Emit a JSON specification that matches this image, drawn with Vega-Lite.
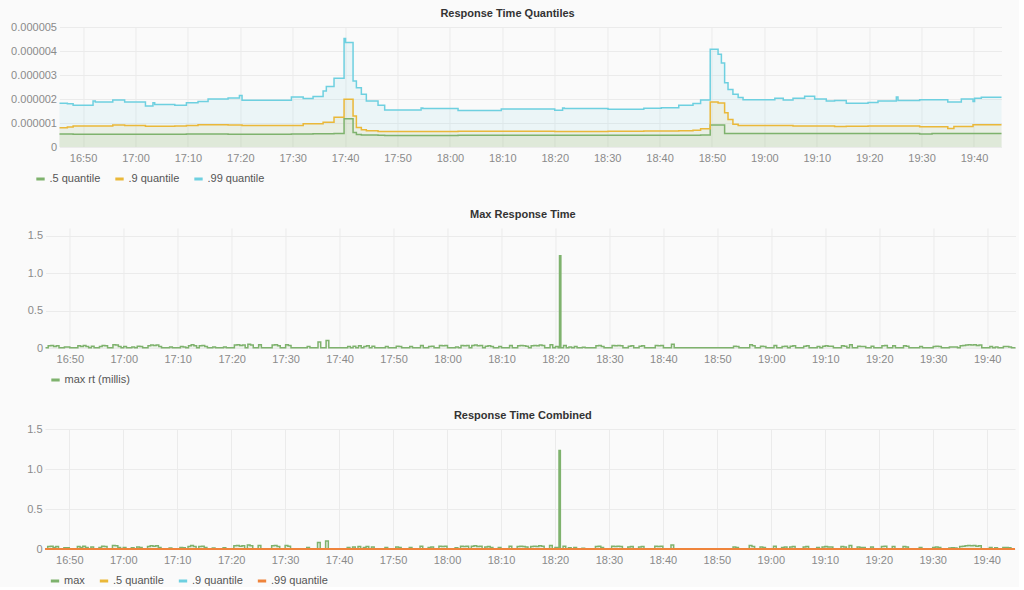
{
  "$schema": "https://vega.github.io/schema/vega-lite/v6.json",
  "background": "#fafafa",
  "padding": {"left": 10, "top": 8, "right": 0, "bottom": 0},
  "columns": 1,
  "align": "each",
  "center": true,
  "spacing": 24,
  "resolve": {"scale": {"color": "independent"}, "legend": {"color": "independent"}},
  "config": {
    "font": "Liberation Sans",
    "view": {"stroke": null},
    "axis": {"domain": false, "ticks": false, "gridColor": "#ebebeb", "labelColor": "#8a8a8a", "labelFontSize": 11},
    "axisX": {"labelPadding": 5, "labelFlush": false},
    "axisY": {"labelPadding": 3},
    "legend": {"direction": "horizontal", "symbolType": "stroke", "symbolStrokeWidth": 3, "symbolSize": 70, "symbolOpacity": 1, "labelFontSize": 11, "labelColor": "#555555", "columnPadding": 8, "labelOffset": 3},
    "title": {"fontSize": 11, "fontWeight": "bold", "color": "#333333"}
  },
  "datasets": {
    "q": [
      {"t": "2017-06-01T16:45:30", "q5": 0.54e-6, "q9": 0.80e-6, "q99": 1.82e-6},
      {"t": "2017-06-01T16:47:00", "q5": 0.54e-6, "q9": 0.83e-6, "q99": 1.80e-6},
      {"t": "2017-06-01T16:48:06", "q5": 0.53e-6, "q9": 0.87e-6, "q99": 1.74e-6},
      {"t": "2017-06-01T16:51:54", "q5": 0.53e-6, "q9": 0.87e-6, "q99": 1.92e-6},
      {"t": "2017-06-01T16:52:20", "q5": 0.53e-6, "q9": 0.87e-6, "q99": 1.87e-6},
      {"t": "2017-06-01T16:55:40", "q5": 0.53e-6, "q9": 0.92e-6, "q99": 1.96e-6},
      {"t": "2017-06-01T16:57:56", "q5": 0.53e-6, "q9": 0.90e-6, "q99": 1.88e-6},
      {"t": "2017-06-01T17:01:54", "q5": 0.53e-6, "q9": 0.86e-6, "q99": 1.71e-6},
      {"t": "2017-06-01T17:03:20", "q5": 0.53e-6, "q9": 0.86e-6, "q99": 1.84e-6},
      {"t": "2017-06-01T17:03:40", "q5": 0.53e-6, "q9": 0.86e-6, "q99": 1.77e-6},
      {"t": "2017-06-01T17:07:30", "q5": 0.53e-6, "q9": 0.87e-6, "q99": 1.74e-6},
      {"t": "2017-06-01T17:09:43", "q5": 0.54e-6, "q9": 0.90e-6, "q99": 1.84e-6},
      {"t": "2017-06-01T17:11:56", "q5": 0.54e-6, "q9": 0.93e-6, "q99": 1.90e-6},
      {"t": "2017-06-01T17:13:51", "q5": 0.54e-6, "q9": 0.93e-6, "q99": 2.00e-6},
      {"t": "2017-06-01T17:17:40", "q5": 0.53e-6, "q9": 0.92e-6, "q99": 2.04e-6},
      {"t": "2017-06-01T17:19:50", "q5": 0.53e-6, "q9": 0.92e-6, "q99": 2.15e-6},
      {"t": "2017-06-01T17:20:20", "q5": 0.53e-6, "q9": 0.90e-6, "q99": 1.95e-6},
      {"t": "2017-06-01T17:29:45", "q5": 0.54e-6, "q9": 0.90e-6, "q99": 2.08e-6},
      {"t": "2017-06-01T17:32:00", "q5": 0.54e-6, "q9": 0.97e-6, "q99": 2.02e-6},
      {"t": "2017-06-01T17:33:53", "q5": 0.55e-6, "q9": 0.97e-6, "q99": 2.10e-6},
      {"t": "2017-06-01T17:35:48", "q5": 0.55e-6, "q9": 1.03e-6, "q99": 2.33e-6},
      {"t": "2017-06-01T17:36:25", "q5": 0.55e-6, "q9": 1.03e-6, "q99": 2.52e-6},
      {"t": "2017-06-01T17:37:53", "q5": 0.56e-6, "q9": 1.24e-6, "q99": 2.86e-6},
      {"t": "2017-06-01T17:39:48", "q5": 1.18e-6, "q9": 1.99e-6, "q99": 4.52e-6},
      {"t": "2017-06-01T17:40:05", "q5": 1.18e-6, "q9": 1.99e-6, "q99": 4.35e-6},
      {"t": "2017-06-01T17:41:31", "q5": 0.60e-6, "q9": 1.29e-6, "q99": 2.75e-6},
      {"t": "2017-06-01T17:42:09", "q5": 0.52e-6, "q9": 0.81e-6, "q99": 2.47e-6},
      {"t": "2017-06-01T17:43:06", "q5": 0.50e-6, "q9": 0.72e-6, "q99": 2.20e-6},
      {"t": "2017-06-01T17:44:03", "q5": 0.50e-6, "q9": 0.68e-6, "q99": 1.92e-6},
      {"t": "2017-06-01T17:46:17", "q5": 0.49e-6, "q9": 0.65e-6, "q99": 1.74e-6},
      {"t": "2017-06-01T17:47:33", "q5": 0.48e-6, "q9": 0.65e-6, "q99": 1.54e-6},
      {"t": "2017-06-01T17:54:30", "q5": 0.48e-6, "q9": 0.65e-6, "q99": 1.62e-6},
      {"t": "2017-06-01T17:54:50", "q5": 0.48e-6, "q9": 0.65e-6, "q99": 1.60e-6},
      {"t": "2017-06-01T18:01:33", "q5": 0.49e-6, "q9": 0.66e-6, "q99": 1.52e-6},
      {"t": "2017-06-01T18:09:48", "q5": 0.49e-6, "q9": 0.66e-6, "q99": 1.58e-6},
      {"t": "2017-06-01T18:20:00", "q5": 0.49e-6, "q9": 0.65e-6, "q99": 1.53e-6},
      {"t": "2017-06-01T18:21:30", "q5": 0.49e-6, "q9": 0.65e-6, "q99": 1.62e-6},
      {"t": "2017-06-01T18:21:50", "q5": 0.49e-6, "q9": 0.65e-6, "q99": 1.60e-6},
      {"t": "2017-06-01T18:30:10", "q5": 0.49e-6, "q9": 0.66e-6, "q99": 1.57e-6},
      {"t": "2017-06-01T18:37:00", "q5": 0.49e-6, "q9": 0.67e-6, "q99": 1.61e-6},
      {"t": "2017-06-01T18:40:20", "q5": 0.49e-6, "q9": 0.67e-6, "q99": 1.64e-6},
      {"t": "2017-06-01T18:43:40", "q5": 0.49e-6, "q9": 0.68e-6, "q99": 1.74e-6},
      {"t": "2017-06-01T18:46:23", "q5": 0.49e-6, "q9": 0.70e-6, "q99": 1.81e-6},
      {"t": "2017-06-01T18:47:50", "q5": 0.50e-6, "q9": 0.76e-6, "q99": 1.96e-6},
      {"t": "2017-06-01T18:49:40", "q5": 0.92e-6, "q9": 1.88e-6, "q99": 4.07e-6},
      {"t": "2017-06-01T18:51:10", "q5": 0.92e-6, "q9": 1.83e-6, "q99": 3.86e-6},
      {"t": "2017-06-01T18:51:48", "q5": 0.92e-6, "q9": 1.83e-6, "q99": 3.50e-6},
      {"t": "2017-06-01T18:52:25", "q5": 0.56e-6, "q9": 1.43e-6, "q99": 2.68e-6},
      {"t": "2017-06-01T18:53:04", "q5": 0.56e-6, "q9": 1.15e-6, "q99": 2.40e-6},
      {"t": "2017-06-01T18:54:00", "q5": 0.56e-6, "q9": 0.95e-6, "q99": 2.20e-6},
      {"t": "2017-06-01T18:55:00", "q5": 0.56e-6, "q9": 0.90e-6, "q99": 2.06e-6},
      {"t": "2017-06-01T18:55:56", "q5": 0.56e-6, "q9": 0.90e-6, "q99": 1.97e-6},
      {"t": "2017-06-01T19:02:00", "q5": 0.56e-6, "q9": 0.90e-6, "q99": 2.03e-6},
      {"t": "2017-06-01T19:03:36", "q5": 0.56e-6, "q9": 0.90e-6, "q99": 1.96e-6},
      {"t": "2017-06-01T19:05:28", "q5": 0.56e-6, "q9": 0.88e-6, "q99": 2.03e-6},
      {"t": "2017-06-01T19:07:41", "q5": 0.56e-6, "q9": 0.88e-6, "q99": 2.11e-6},
      {"t": "2017-06-01T19:09:36", "q5": 0.56e-6, "q9": 0.88e-6, "q99": 2.00e-6},
      {"t": "2017-06-01T19:11:49", "q5": 0.56e-6, "q9": 0.88e-6, "q99": 1.92e-6},
      {"t": "2017-06-01T19:13:24", "q5": 0.56e-6, "q9": 0.85e-6, "q99": 1.94e-6},
      {"t": "2017-06-01T19:15:38", "q5": 0.56e-6, "q9": 0.86e-6, "q99": 1.82e-6},
      {"t": "2017-06-01T19:19:47", "q5": 0.56e-6, "q9": 0.87e-6, "q99": 1.85e-6},
      {"t": "2017-06-01T19:21:41", "q5": 0.56e-6, "q9": 0.87e-6, "q99": 1.92e-6},
      {"t": "2017-06-01T19:25:11", "q5": 0.56e-6, "q9": 0.87e-6, "q99": 2.08e-6},
      {"t": "2017-06-01T19:25:30", "q5": 0.56e-6, "q9": 0.87e-6, "q99": 1.94e-6},
      {"t": "2017-06-01T19:29:38", "q5": 0.54e-6, "q9": 0.84e-6, "q99": 1.97e-6},
      {"t": "2017-06-01T19:32:00", "q5": 0.56e-6, "q9": 0.84e-6, "q99": 1.97e-6},
      {"t": "2017-06-01T19:35:00", "q5": 0.56e-6, "q9": 0.77e-6, "q99": 1.87e-6},
      {"t": "2017-06-01T19:36:10", "q5": 0.56e-6, "q9": 0.85e-6, "q99": 1.87e-6},
      {"t": "2017-06-01T19:37:35", "q5": 0.56e-6, "q9": 0.85e-6, "q99": 2.00e-6},
      {"t": "2017-06-01T19:39:49", "q5": 0.56e-6, "q9": 0.93e-6, "q99": 1.90e-6},
      {"t": "2017-06-01T19:40:07", "q5": 0.56e-6, "q9": 0.93e-6, "q99": 2.03e-6},
      {"t": "2017-06-01T19:41:24", "q5": 0.56e-6, "q9": 0.93e-6, "q99": 2.07e-6},
      {"t": "2017-06-01T19:45:15", "q5": 0.56e-6, "q9": 0.93e-6, "q99": 2.07e-6}
    ],
    "m": [
      {"t": "2017-06-01T16:45:30", "max": 0.004},
      {"t": "2017-06-01T16:46:00", "max": 0.03},
      {"t": "2017-06-01T16:46:30", "max": 0.035},
      {"t": "2017-06-01T16:47:00", "max": 0.02},
      {"t": "2017-06-01T16:47:30", "max": 0.03},
      {"t": "2017-06-01T16:48:00", "max": 0.004},
      {"t": "2017-06-01T16:49:00", "max": 0.015},
      {"t": "2017-06-01T16:49:30", "max": 0.015},
      {"t": "2017-06-01T16:50:00", "max": 0.004},
      {"t": "2017-06-01T16:51:30", "max": 0.03},
      {"t": "2017-06-01T16:52:00", "max": 0.02},
      {"t": "2017-06-01T16:52:30", "max": 0.035},
      {"t": "2017-06-01T16:53:00", "max": 0.02},
      {"t": "2017-06-01T16:53:30", "max": 0.004},
      {"t": "2017-06-01T16:54:00", "max": 0.025},
      {"t": "2017-06-01T16:54:30", "max": 0.004},
      {"t": "2017-06-01T16:55:30", "max": 0.02},
      {"t": "2017-06-01T16:56:00", "max": 0.035},
      {"t": "2017-06-01T16:56:30", "max": 0.03},
      {"t": "2017-06-01T16:57:00", "max": 0.004},
      {"t": "2017-06-01T16:58:00", "max": 0.045},
      {"t": "2017-06-01T16:58:30", "max": 0.04},
      {"t": "2017-06-01T16:59:00", "max": 0.02},
      {"t": "2017-06-01T16:59:30", "max": 0.004},
      {"t": "2017-06-01T17:00:00", "max": 0.02},
      {"t": "2017-06-01T17:00:30", "max": 0.004},
      {"t": "2017-06-01T17:01:30", "max": 0.015},
      {"t": "2017-06-01T17:02:00", "max": 0.004},
      {"t": "2017-06-01T17:02:30", "max": 0.025},
      {"t": "2017-06-01T17:03:00", "max": 0.02},
      {"t": "2017-06-01T17:03:30", "max": 0.004},
      {"t": "2017-06-01T17:04:30", "max": 0.03},
      {"t": "2017-06-01T17:05:00", "max": 0.04},
      {"t": "2017-06-01T17:05:30", "max": 0.035},
      {"t": "2017-06-01T17:06:00", "max": 0.04},
      {"t": "2017-06-01T17:06:30", "max": 0.02},
      {"t": "2017-06-01T17:07:00", "max": 0.004},
      {"t": "2017-06-01T17:08:30", "max": 0.013},
      {"t": "2017-06-01T17:09:00", "max": 0.004},
      {"t": "2017-06-01T17:10:30", "max": 0.02},
      {"t": "2017-06-01T17:11:00", "max": 0.015},
      {"t": "2017-06-01T17:11:30", "max": 0.004},
      {"t": "2017-06-01T17:12:00", "max": 0.03},
      {"t": "2017-06-01T17:12:30", "max": 0.045},
      {"t": "2017-06-01T17:13:00", "max": 0.03},
      {"t": "2017-06-01T17:13:30", "max": 0.004},
      {"t": "2017-06-01T17:14:00", "max": 0.03},
      {"t": "2017-06-01T17:14:30", "max": 0.035},
      {"t": "2017-06-01T17:15:00", "max": 0.02},
      {"t": "2017-06-01T17:15:30", "max": 0.004},
      {"t": "2017-06-01T17:16:30", "max": 0.013},
      {"t": "2017-06-01T17:17:00", "max": 0.004},
      {"t": "2017-06-01T17:18:30", "max": 0.015},
      {"t": "2017-06-01T17:19:00", "max": 0.004},
      {"t": "2017-06-01T17:20:30", "max": 0.04},
      {"t": "2017-06-01T17:21:00", "max": 0.045},
      {"t": "2017-06-01T17:21:30", "max": 0.035},
      {"t": "2017-06-01T17:22:00", "max": 0.04},
      {"t": "2017-06-01T17:22:30", "max": 0.004},
      {"t": "2017-06-01T17:23:00", "max": 0.05},
      {"t": "2017-06-01T17:23:30", "max": 0.04},
      {"t": "2017-06-01T17:24:00", "max": 0.004},
      {"t": "2017-06-01T17:25:00", "max": 0.045},
      {"t": "2017-06-01T17:25:30", "max": 0.004},
      {"t": "2017-06-01T17:27:30", "max": 0.04},
      {"t": "2017-06-01T17:28:00", "max": 0.045},
      {"t": "2017-06-01T17:28:30", "max": 0.03},
      {"t": "2017-06-01T17:29:00", "max": 0.004},
      {"t": "2017-06-01T17:30:00", "max": 0.045},
      {"t": "2017-06-01T17:30:30", "max": 0.035},
      {"t": "2017-06-01T17:31:00", "max": 0.004},
      {"t": "2017-06-01T17:34:00", "max": 0.02},
      {"t": "2017-06-01T17:34:30", "max": 0.004},
      {"t": "2017-06-01T17:36:00", "max": 0.08},
      {"t": "2017-06-01T17:36:30", "max": 0.004},
      {"t": "2017-06-01T17:37:30", "max": 0.1},
      {"t": "2017-06-01T17:38:00", "max": 0.004},
      {"t": "2017-06-01T17:41:30", "max": 0.02},
      {"t": "2017-06-01T17:42:00", "max": 0.004},
      {"t": "2017-06-01T17:42:30", "max": 0.025},
      {"t": "2017-06-01T17:43:00", "max": 0.004},
      {"t": "2017-06-01T17:43:30", "max": 0.03},
      {"t": "2017-06-01T17:44:00", "max": 0.004},
      {"t": "2017-06-01T17:44:30", "max": 0.02},
      {"t": "2017-06-01T17:45:00", "max": 0.03},
      {"t": "2017-06-01T17:45:30", "max": 0.004},
      {"t": "2017-06-01T17:46:00", "max": 0.025},
      {"t": "2017-06-01T17:46:30", "max": 0.004},
      {"t": "2017-06-01T17:48:30", "max": 0.02},
      {"t": "2017-06-01T17:49:00", "max": 0.004},
      {"t": "2017-06-01T17:50:30", "max": 0.025},
      {"t": "2017-06-01T17:51:00", "max": 0.02},
      {"t": "2017-06-01T17:51:30", "max": 0.004},
      {"t": "2017-06-01T17:53:00", "max": 0.02},
      {"t": "2017-06-01T17:53:30", "max": 0.004},
      {"t": "2017-06-01T17:55:00", "max": 0.035},
      {"t": "2017-06-01T17:55:30", "max": 0.004},
      {"t": "2017-06-01T17:56:30", "max": 0.02},
      {"t": "2017-06-01T17:57:00", "max": 0.025},
      {"t": "2017-06-01T17:57:30", "max": 0.004},
      {"t": "2017-06-01T17:58:30", "max": 0.035},
      {"t": "2017-06-01T17:59:00", "max": 0.03},
      {"t": "2017-06-01T17:59:30", "max": 0.035},
      {"t": "2017-06-01T18:00:00", "max": 0.004},
      {"t": "2017-06-01T18:01:30", "max": 0.015},
      {"t": "2017-06-01T18:02:00", "max": 0.004},
      {"t": "2017-06-01T18:02:30", "max": 0.035},
      {"t": "2017-06-01T18:03:00", "max": 0.03},
      {"t": "2017-06-01T18:03:30", "max": 0.035},
      {"t": "2017-06-01T18:04:00", "max": 0.004},
      {"t": "2017-06-01T18:04:30", "max": 0.035},
      {"t": "2017-06-01T18:05:00", "max": 0.04},
      {"t": "2017-06-01T18:05:30", "max": 0.03},
      {"t": "2017-06-01T18:06:00", "max": 0.035},
      {"t": "2017-06-01T18:06:30", "max": 0.004},
      {"t": "2017-06-01T18:07:00", "max": 0.025},
      {"t": "2017-06-01T18:07:30", "max": 0.03},
      {"t": "2017-06-01T18:08:00", "max": 0.02},
      {"t": "2017-06-01T18:08:30", "max": 0.004},
      {"t": "2017-06-01T18:09:30", "max": 0.02},
      {"t": "2017-06-01T18:10:00", "max": 0.004},
      {"t": "2017-06-01T18:11:30", "max": 0.035},
      {"t": "2017-06-01T18:12:00", "max": 0.004},
      {"t": "2017-06-01T18:13:00", "max": 0.03},
      {"t": "2017-06-01T18:13:30", "max": 0.035},
      {"t": "2017-06-01T18:14:00", "max": 0.03},
      {"t": "2017-06-01T18:14:30", "max": 0.025},
      {"t": "2017-06-01T18:15:00", "max": 0.004},
      {"t": "2017-06-01T18:15:30", "max": 0.03},
      {"t": "2017-06-01T18:16:00", "max": 0.035},
      {"t": "2017-06-01T18:16:30", "max": 0.03},
      {"t": "2017-06-01T18:17:00", "max": 0.04},
      {"t": "2017-06-01T18:17:30", "max": 0.035},
      {"t": "2017-06-01T18:18:00", "max": 0.004},
      {"t": "2017-06-01T18:19:00", "max": 0.045},
      {"t": "2017-06-01T18:19:30", "max": 0.004},
      {"t": "2017-06-01T18:20:00", "max": 0.02},
      {"t": "2017-06-01T18:20:30", "max": 0.004},
      {"t": "2017-06-01T18:20:45", "max": 1.23},
      {"t": "2017-06-01T18:21:00", "max": 0.004},
      {"t": "2017-06-01T18:21:30", "max": 0.035},
      {"t": "2017-06-01T18:22:00", "max": 0.004},
      {"t": "2017-06-01T18:22:30", "max": 0.015},
      {"t": "2017-06-01T18:23:00", "max": 0.004},
      {"t": "2017-06-01T18:23:30", "max": 0.02},
      {"t": "2017-06-01T18:24:00", "max": 0.004},
      {"t": "2017-06-01T18:25:00", "max": 0.01},
      {"t": "2017-06-01T18:25:30", "max": 0.004},
      {"t": "2017-06-01T18:27:30", "max": 0.03},
      {"t": "2017-06-01T18:28:00", "max": 0.035},
      {"t": "2017-06-01T18:28:30", "max": 0.02},
      {"t": "2017-06-01T18:29:00", "max": 0.004},
      {"t": "2017-06-01T18:30:30", "max": 0.035},
      {"t": "2017-06-01T18:31:00", "max": 0.03},
      {"t": "2017-06-01T18:31:30", "max": 0.035},
      {"t": "2017-06-01T18:32:00", "max": 0.03},
      {"t": "2017-06-01T18:32:30", "max": 0.004},
      {"t": "2017-06-01T18:33:30", "max": 0.025},
      {"t": "2017-06-01T18:34:00", "max": 0.03},
      {"t": "2017-06-01T18:34:30", "max": 0.004},
      {"t": "2017-06-01T18:35:30", "max": 0.025},
      {"t": "2017-06-01T18:36:00", "max": 0.03},
      {"t": "2017-06-01T18:36:30", "max": 0.004},
      {"t": "2017-06-01T18:38:30", "max": 0.035},
      {"t": "2017-06-01T18:39:00", "max": 0.03},
      {"t": "2017-06-01T18:39:30", "max": 0.035},
      {"t": "2017-06-01T18:40:00", "max": 0.004},
      {"t": "2017-06-01T18:41:30", "max": 0.05},
      {"t": "2017-06-01T18:42:00", "max": 0.004},
      {"t": "2017-06-01T18:53:00", "max": 0.025},
      {"t": "2017-06-01T18:53:30", "max": 0.02},
      {"t": "2017-06-01T18:54:00", "max": 0.004},
      {"t": "2017-06-01T18:56:00", "max": 0.045},
      {"t": "2017-06-01T18:56:30", "max": 0.03},
      {"t": "2017-06-01T18:57:00", "max": 0.004},
      {"t": "2017-06-01T18:58:00", "max": 0.025},
      {"t": "2017-06-01T18:58:30", "max": 0.02},
      {"t": "2017-06-01T18:59:00", "max": 0.004},
      {"t": "2017-06-01T19:00:30", "max": 0.035},
      {"t": "2017-06-01T19:01:00", "max": 0.004},
      {"t": "2017-06-01T19:02:00", "max": 0.02},
      {"t": "2017-06-01T19:02:30", "max": 0.025},
      {"t": "2017-06-01T19:03:00", "max": 0.004},
      {"t": "2017-06-01T19:03:30", "max": 0.025},
      {"t": "2017-06-01T19:04:00", "max": 0.03},
      {"t": "2017-06-01T19:04:30", "max": 0.004},
      {"t": "2017-06-01T19:06:00", "max": 0.025},
      {"t": "2017-06-01T19:06:30", "max": 0.03},
      {"t": "2017-06-01T19:07:00", "max": 0.004},
      {"t": "2017-06-01T19:08:30", "max": 0.02},
      {"t": "2017-06-01T19:09:00", "max": 0.004},
      {"t": "2017-06-01T19:09:30", "max": 0.025},
      {"t": "2017-06-01T19:10:00", "max": 0.03},
      {"t": "2017-06-01T19:10:30", "max": 0.025},
      {"t": "2017-06-01T19:11:00", "max": 0.025},
      {"t": "2017-06-01T19:11:30", "max": 0.004},
      {"t": "2017-06-01T19:13:00", "max": 0.03},
      {"t": "2017-06-01T19:13:30", "max": 0.025},
      {"t": "2017-06-01T19:14:00", "max": 0.004},
      {"t": "2017-06-01T19:14:30", "max": 0.045},
      {"t": "2017-06-01T19:15:00", "max": 0.004},
      {"t": "2017-06-01T19:16:00", "max": 0.025},
      {"t": "2017-06-01T19:16:30", "max": 0.02},
      {"t": "2017-06-01T19:17:00", "max": 0.02},
      {"t": "2017-06-01T19:17:30", "max": 0.004},
      {"t": "2017-06-01T19:18:30", "max": 0.025},
      {"t": "2017-06-01T19:19:00", "max": 0.004},
      {"t": "2017-06-01T19:20:30", "max": 0.03},
      {"t": "2017-06-01T19:21:00", "max": 0.035},
      {"t": "2017-06-01T19:21:30", "max": 0.004},
      {"t": "2017-06-01T19:22:30", "max": 0.03},
      {"t": "2017-06-01T19:23:00", "max": 0.004},
      {"t": "2017-06-01T19:24:30", "max": 0.03},
      {"t": "2017-06-01T19:25:00", "max": 0.025},
      {"t": "2017-06-01T19:25:30", "max": 0.004},
      {"t": "2017-06-01T19:27:30", "max": 0.02},
      {"t": "2017-06-01T19:28:00", "max": 0.004},
      {"t": "2017-06-01T19:30:00", "max": 0.02},
      {"t": "2017-06-01T19:30:30", "max": 0.025},
      {"t": "2017-06-01T19:31:00", "max": 0.02},
      {"t": "2017-06-01T19:31:30", "max": 0.004},
      {"t": "2017-06-01T19:33:00", "max": 0.012},
      {"t": "2017-06-01T19:33:30", "max": 0.015},
      {"t": "2017-06-01T19:34:00", "max": 0.012},
      {"t": "2017-06-01T19:34:30", "max": 0.004},
      {"t": "2017-06-01T19:35:00", "max": 0.03},
      {"t": "2017-06-01T19:35:30", "max": 0.035},
      {"t": "2017-06-01T19:36:00", "max": 0.04},
      {"t": "2017-06-01T19:36:30", "max": 0.045},
      {"t": "2017-06-01T19:37:00", "max": 0.04},
      {"t": "2017-06-01T19:37:30", "max": 0.045},
      {"t": "2017-06-01T19:38:00", "max": 0.035},
      {"t": "2017-06-01T19:38:30", "max": 0.04},
      {"t": "2017-06-01T19:39:00", "max": 0.004},
      {"t": "2017-06-01T19:40:30", "max": 0.02},
      {"t": "2017-06-01T19:41:00", "max": 0.004},
      {"t": "2017-06-01T19:41:30", "max": 0.015},
      {"t": "2017-06-01T19:42:00", "max": 0.004},
      {"t": "2017-06-01T19:43:00", "max": 0.02},
      {"t": "2017-06-01T19:43:30", "max": 0.02},
      {"t": "2017-06-01T19:44:00", "max": 0.015},
      {"t": "2017-06-01T19:44:30", "max": 0.004},
      {"t": "2017-06-01T19:45:15", "max": 0.004}
    ]
  },
  "concat": [
    {
      "width": 942,
      "height": 120,
      "title": {"text": "Response Time Quantiles", "frame": "bounds", "offset": 2},
      "data": {"name": "q"},
      "transform": [{"fold": ["q5", "q9", "q99"], "as": ["key", "value"]}],
      "encoding": {
        "x": {"field": "t", "type": "temporal", "title": null, "scale": {"domain": [{"year": 2017, "month": 6, "date": 1, "hours": 16, "minutes": 45, "seconds": 30}, {"year": 2017, "month": 6, "date": 1, "hours": 19, "minutes": 45, "seconds": 15}]}, "axis": {"format": "%H:%M", "values": [
          {"year": 2017, "month": 6, "date": 1, "hours": 16, "minutes": 50}, {"year": 2017, "month": 6, "date": 1, "hours": 17, "minutes": 0}, {"year": 2017, "month": 6, "date": 1, "hours": 17, "minutes": 10}, {"year": 2017, "month": 6, "date": 1, "hours": 17, "minutes": 20}, {"year": 2017, "month": 6, "date": 1, "hours": 17, "minutes": 30}, {"year": 2017, "month": 6, "date": 1, "hours": 17, "minutes": 40},
          {"year": 2017, "month": 6, "date": 1, "hours": 17, "minutes": 50}, {"year": 2017, "month": 6, "date": 1, "hours": 18, "minutes": 0}, {"year": 2017, "month": 6, "date": 1, "hours": 18, "minutes": 10}, {"year": 2017, "month": 6, "date": 1, "hours": 18, "minutes": 20}, {"year": 2017, "month": 6, "date": 1, "hours": 18, "minutes": 30}, {"year": 2017, "month": 6, "date": 1, "hours": 18, "minutes": 40},
          {"year": 2017, "month": 6, "date": 1, "hours": 18, "minutes": 50}, {"year": 2017, "month": 6, "date": 1, "hours": 19, "minutes": 0}, {"year": 2017, "month": 6, "date": 1, "hours": 19, "minutes": 10}, {"year": 2017, "month": 6, "date": 1, "hours": 19, "minutes": 20}, {"year": 2017, "month": 6, "date": 1, "hours": 19, "minutes": 30}, {"year": 2017, "month": 6, "date": 1, "hours": 19, "minutes": 40}]}},
        "y": {"field": "value", "type": "quantitative", "title": null, "stack": null, "scale": {"domain": [0, 0.000005]}, "axis": {"values": [0, 0.000001, 0.000002, 0.000003, 0.000004, 0.000005], "labelExpr": "datum.value == 0 ? '0' : format(datum.value, '.6f')"}},
        "color": {"field": "key", "type": "nominal", "scale": {"domain": ["q5", "q9", "q99"], "range": ["#7eb26d", "#eab839", "#6ed0e0"]}, "legend": {"title": null, "orient": "none", "legendX": -25, "legendY": 146, "labelExpr": "datum.label == 'q5' ? '.5 quantile' : datum.label == 'q9' ? '.9 quantile' : '.99 quantile'"}}
      },
      "layer": [
        {"mark": {"type": "area", "interpolate": "step-after", "opacity": 0.1}},
        {"mark": {"type": "line", "interpolate": "step-after", "strokeWidth": 1.5}}
      ]
    },
    {
      "width": 970,
      "height": 120,
      "title": {"text": "Max Response Time", "frame": "bounds", "offset": 8},
      "data": {"name": "m"},
      "transform": [{"fold": ["max"], "as": ["key", "value"]}],
      "encoding": {
        "x": {"field": "t", "type": "temporal", "title": null, "scale": {"domain": [{"year": 2017, "month": 6, "date": 1, "hours": 16, "minutes": 45, "seconds": 30}, {"year": 2017, "month": 6, "date": 1, "hours": 19, "minutes": 45, "seconds": 15}]}, "axis": {"format": "%H:%M", "values": [
          {"year": 2017, "month": 6, "date": 1, "hours": 16, "minutes": 50}, {"year": 2017, "month": 6, "date": 1, "hours": 17, "minutes": 0}, {"year": 2017, "month": 6, "date": 1, "hours": 17, "minutes": 10}, {"year": 2017, "month": 6, "date": 1, "hours": 17, "minutes": 20}, {"year": 2017, "month": 6, "date": 1, "hours": 17, "minutes": 30}, {"year": 2017, "month": 6, "date": 1, "hours": 17, "minutes": 40},
          {"year": 2017, "month": 6, "date": 1, "hours": 17, "minutes": 50}, {"year": 2017, "month": 6, "date": 1, "hours": 18, "minutes": 0}, {"year": 2017, "month": 6, "date": 1, "hours": 18, "minutes": 10}, {"year": 2017, "month": 6, "date": 1, "hours": 18, "minutes": 20}, {"year": 2017, "month": 6, "date": 1, "hours": 18, "minutes": 30}, {"year": 2017, "month": 6, "date": 1, "hours": 18, "minutes": 40},
          {"year": 2017, "month": 6, "date": 1, "hours": 18, "minutes": 50}, {"year": 2017, "month": 6, "date": 1, "hours": 19, "minutes": 0}, {"year": 2017, "month": 6, "date": 1, "hours": 19, "minutes": 10}, {"year": 2017, "month": 6, "date": 1, "hours": 19, "minutes": 20}, {"year": 2017, "month": 6, "date": 1, "hours": 19, "minutes": 30}, {"year": 2017, "month": 6, "date": 1, "hours": 19, "minutes": 40}]}},
        "y": {"field": "value", "type": "quantitative", "title": null, "stack": null, "scale": {"domain": [0, 1.6]}, "axis": {"values": [0, 0.5, 1, 1.5], "labelExpr": "datum.value == 0 ? '0' : format(datum.value, '.1f')"}},
        "color": {"field": "key", "type": "nominal", "scale": {"domain": ["max"], "range": ["#7eb26d"]}, "legend": {"title": null, "orient": "none", "legendX": 4, "legendY": 146, "labelExpr": "'max rt (millis)'"}}
      },
      "layer": [
        {"mark": {"type": "area", "interpolate": "step-after", "opacity": 0.1}},
        {"mark": {"type": "line", "interpolate": "step-after", "strokeWidth": 1.5}}
      ]
    },
    {
      "width": 970,
      "height": 120,
      "title": {"text": "Response Time Combined", "frame": "bounds", "offset": 2},
      "encoding": {
        "x": {"field": "t", "type": "temporal", "title": null, "scale": {"domain": [{"year": 2017, "month": 6, "date": 1, "hours": 16, "minutes": 45, "seconds": 30}, {"year": 2017, "month": 6, "date": 1, "hours": 19, "minutes": 45, "seconds": 15}]}, "axis": {"format": "%H:%M", "values": [
          {"year": 2017, "month": 6, "date": 1, "hours": 16, "minutes": 50}, {"year": 2017, "month": 6, "date": 1, "hours": 17, "minutes": 0}, {"year": 2017, "month": 6, "date": 1, "hours": 17, "minutes": 10}, {"year": 2017, "month": 6, "date": 1, "hours": 17, "minutes": 20}, {"year": 2017, "month": 6, "date": 1, "hours": 17, "minutes": 30}, {"year": 2017, "month": 6, "date": 1, "hours": 17, "minutes": 40},
          {"year": 2017, "month": 6, "date": 1, "hours": 17, "minutes": 50}, {"year": 2017, "month": 6, "date": 1, "hours": 18, "minutes": 0}, {"year": 2017, "month": 6, "date": 1, "hours": 18, "minutes": 10}, {"year": 2017, "month": 6, "date": 1, "hours": 18, "minutes": 20}, {"year": 2017, "month": 6, "date": 1, "hours": 18, "minutes": 30}, {"year": 2017, "month": 6, "date": 1, "hours": 18, "minutes": 40},
          {"year": 2017, "month": 6, "date": 1, "hours": 18, "minutes": 50}, {"year": 2017, "month": 6, "date": 1, "hours": 19, "minutes": 0}, {"year": 2017, "month": 6, "date": 1, "hours": 19, "minutes": 10}, {"year": 2017, "month": 6, "date": 1, "hours": 19, "minutes": 20}, {"year": 2017, "month": 6, "date": 1, "hours": 19, "minutes": 30}, {"year": 2017, "month": 6, "date": 1, "hours": 19, "minutes": 40}]}},
        "y": {"field": "value", "type": "quantitative", "title": null, "stack": null, "scale": {"domain": [0, 1.5]}, "axis": {"values": [0, 0.5, 1, 1.5], "labelExpr": "datum.value == 0 ? '0' : format(datum.value, '.1f')"}},
        "color": {"field": "key", "type": "nominal", "scale": {"domain": ["max", "q5", "q9", "q99"], "range": ["#7eb26d", "#eab839", "#6ed0e0", "#ef843c"]}, "legend": {"title": null, "orient": "none", "legendX": 4, "legendY": 146, "labelExpr": "datum.label == 'max' ? 'max' : datum.label == 'q5' ? '.5 quantile' : datum.label == 'q9' ? '.9 quantile' : '.99 quantile'"}}
      },
      "layer": [
        {
          "data": {"name": "m"},
          "transform": [{"fold": ["max"], "as": ["key", "value"]}],
          "mark": {"type": "area", "interpolate": "step-after", "opacity": 0.1}
        },
        {
          "data": {"name": "m"},
          "transform": [{"fold": ["max"], "as": ["key", "value"]}],
          "mark": {"type": "line", "interpolate": "step-after", "strokeWidth": 1.5}
        },
        {
          "data": {"name": "q"},
          "transform": [{"fold": ["q5", "q9", "q99"], "as": ["key", "value"]}],
          "mark": {"type": "line", "interpolate": "step-after", "strokeWidth": 2}
        }
      ]
    }
  ]
}
